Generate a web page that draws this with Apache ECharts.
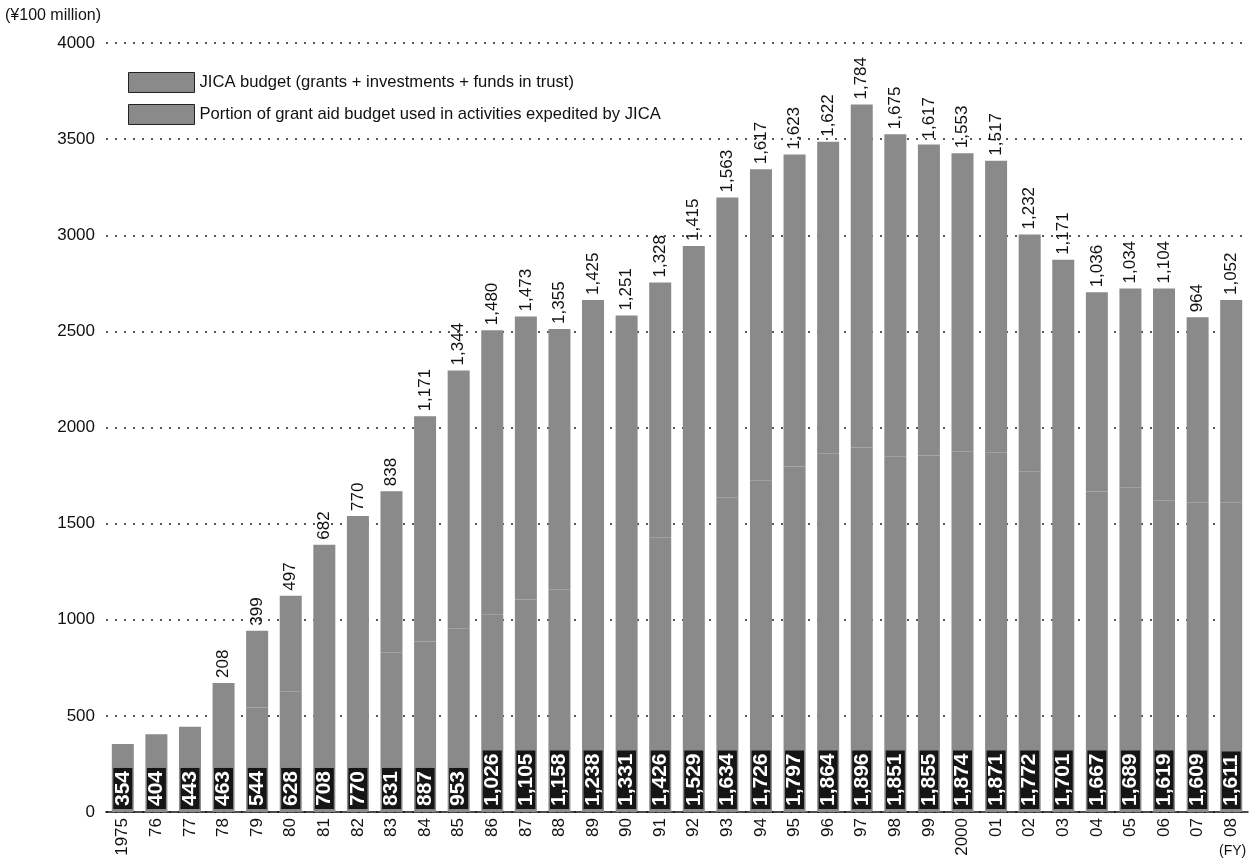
<!DOCTYPE html>
<html>
<head>
<meta charset="utf-8">
<script src="https://cdn.jsdelivr.net/npm/echarts@6/dist/echarts.min.js"></script>
<style>
html,body{margin:0;padding:0;background:#fff;}
#chart{width:1251px;height:862px;}
</style>
</head>
<body>
<div id="chart"></div>
<script>
const categories = ['1975','76','77','78','79','80','81','82','83','84','85','86','87','88','89','90','91','92','93','94','95','96','97','98','99','2000','01','02','03','04','05','06','07','08'];
const jicaBudget = [354,404,443,463,544,628,708,770,831,887,953,1026,1105,1158,1238,1331,1426,1529,1634,1726,1797,1864,1896,1851,1855,1874,1871,1772,1701,1667,1689,1619,1609,1611];
const grantAidPortion = [null,null,null,208,399,497,682,770,838,1171,1344,1480,1473,1355,1425,1251,1328,1415,1563,1617,1623,1622,1784,1675,1617,1553,1517,1232,1171,1036,1034,1104,964,1052];
const yTicks = [0,500,1000,1500,2000,2500,3000,3500,4000];
const seriesNames = ['JICA budget (grants + investments + funds in trust)','Portion of grant aid budget used in activities expedited by JICA'];

const SANS = "'Liberation Sans',Arial,sans-serif";
const fmt = v => (v == null ? '' : Number(v).toLocaleString('en-US'));
const BAR = '#8a8a8a';

const chart = echarts.init(document.getElementById('chart'), null, {renderer:'canvas'});
chart.setOption({
  animation:false,
  backgroundColor:'#fff',
  grid:{left:106,right:3,top:43,bottom:50,containLabel:false},
  legend:{
    orient:'vertical',left:123,top:67,itemWidth:66,itemHeight:20,itemGap:11,
    icon:'rect',
    itemStyle:{borderColor:'#222',borderWidth:1},
    textStyle:{fontFamily:SANS,fontSize:16.6,color:'#111'},
    data:seriesNames
  },
  graphic:[
    {type:'text',left:5,top:8,style:{text:'(¥100 million)',fontFamily:SANS,fontSize:16,fill:'#111'}},
    {type:'text',left:1219,top:844,style:{text:'(FY)',fontFamily:SANS,fontSize:14,fill:'#111'}}
  ],
  xAxis:{
    type:'category',data:categories,
    axisLine:{show:true,lineStyle:{color:'#111',width:1.5}},
    axisTick:{show:false},
    axisLabel:{interval:0,rotate:90,margin:6,fontFamily:SANS,fontSize:17,color:'#111'}
  },
  yAxis:{
    type:'value',min:yTicks[0],max:yTicks[yTicks.length-1],interval:500,
    axisLine:{show:false},axisTick:{show:false},
    axisLabel:{margin:11,fontFamily:SANS,fontSize:17,color:'#111',formatter:v=>String(v)},
    splitLine:{show:true,lineStyle:{color:'#222',type:[2,7],width:1.5}}
  },
  series:[
    {
      name:seriesNames[0],type:'bar',stack:'total',data:jicaBudget,barWidth:22,z:4,
      itemStyle:{color:BAR,borderColor:BAR,borderWidth:2},
      label:{
        show:true,position:'insideBottom',rotate:90,align:'left',verticalAlign:'middle',distance:3,
        formatter:p=>fmt(p.value),
        fontFamily:SANS,fontWeight:'bold',fontSize:21,lineHeight:19,color:'#fff',
        backgroundColor:'#151515',padding:[0,3]
      }
    },
    {
      name:seriesNames[1],type:'bar',stack:'total',data:grantAidPortion,barWidth:22,z:3,
      itemStyle:{color:BAR,borderColor:BAR,borderWidth:2},
      label:{
        show:true,position:'top',rotate:90,align:'left',verticalAlign:'middle',distance:5,
        formatter:p=>fmt(p.value),
        fontFamily:SANS,fontSize:17,color:'#111'
      }
    }
  ]
});
</script>
</body>
</html>
